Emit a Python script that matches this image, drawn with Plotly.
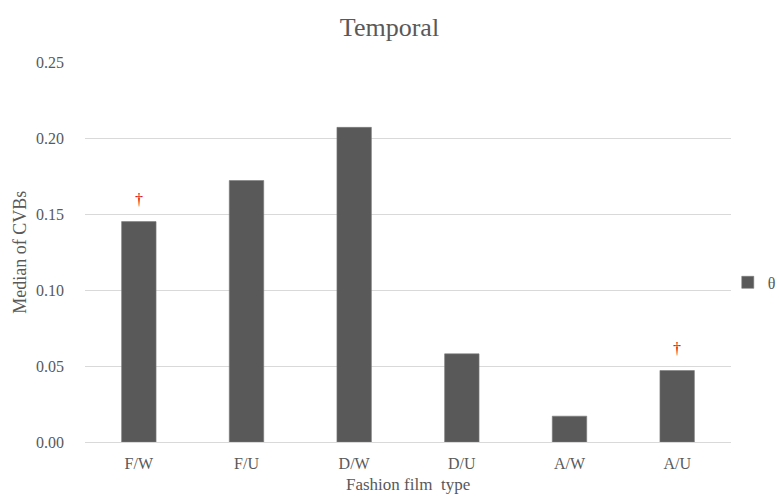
import plotly.graph_objects as go

categories = ["F/W", "F/U", "D/W", "D/U", "A/W", "A/U"]
medians = [0.145, 0.172, 0.207, 0.058, 0.017, 0.047]
dagger_flags = [True, False, False, False, False, True]
y_ticks = [0.00, 0.05, 0.10, 0.15, 0.20, 0.25]

font_family = "Liberation Serif, Times New Roman, serif"
text_grey = "#595959"

fig = go.Figure()
fig.add_trace(go.Bar(
    x=categories,
    y=medians,
    name="θ",
    marker=dict(color="#595959", line=dict(color="#7a7a7a", width=0.6)),
    width=0.32,
    showlegend=True,
))

# red dagger markers above selected bars
for cat, val, flag in zip(categories, medians, dagger_flags):
    if flag:
        fig.add_annotation(
            x=cat, y=val, text="†", showarrow=False,
            yshift=22, font=dict(family=font_family, size=16, color="#e00000"),
        )

# axis titles placed as paper annotations for precise positioning
fig.add_annotation(
    text="Fashion film  type", xref="paper", yref="paper",
    x=0.5, y=-0.112, xanchor="center", yanchor="middle", showarrow=False,
    font=dict(family=font_family, size=17, color=text_grey),
)
fig.add_annotation(
    text="Median of CVBs", xref="paper", yref="paper", textangle=-90,
    x=-0.101, y=0.5, xanchor="center", yanchor="middle", showarrow=False,
    font=dict(family=font_family, size=18, color=text_grey),
)

fig.update_layout(
    width=779, height=497,
    margin=dict(l=85, r=48, t=62, b=55, autoexpand=False),
    paper_bgcolor="white", plot_bgcolor="white",
    font=dict(family=font_family, size=16, color=text_grey),
    title=dict(text="Temporal", x=0.5, xanchor="center", y=0.945, yanchor="middle",
               font=dict(family=font_family, size=26, color=text_grey)),
    legend=dict(x=0.995, y=0.42, xanchor="left", yanchor="middle",
                bgcolor="rgba(0,0,0,0)",
                font=dict(family=font_family, size=16, color=text_grey),
                itemwidth=30),
    xaxis=dict(
        showgrid=False, showline=False, ticks="", automargin=False,
        ticklabelstandoff=10,
        tickfont=dict(family=font_family, size=16, color=text_grey),
    ),
    yaxis=dict(
        range=[0, 0.25], tickvals=y_ticks, tickformat=".2f",
        showgrid=True, gridcolor="#d9d9d9", gridwidth=1,
        zeroline=True, zerolinecolor="#d9d9d9", zerolinewidth=1,
        ticks="", automargin=False, ticklabelstandoff=20,
        tickfont=dict(family=font_family, size=16, color=text_grey),
    ),
    bargap=0.68,
)

fig.write_html("out.html")
